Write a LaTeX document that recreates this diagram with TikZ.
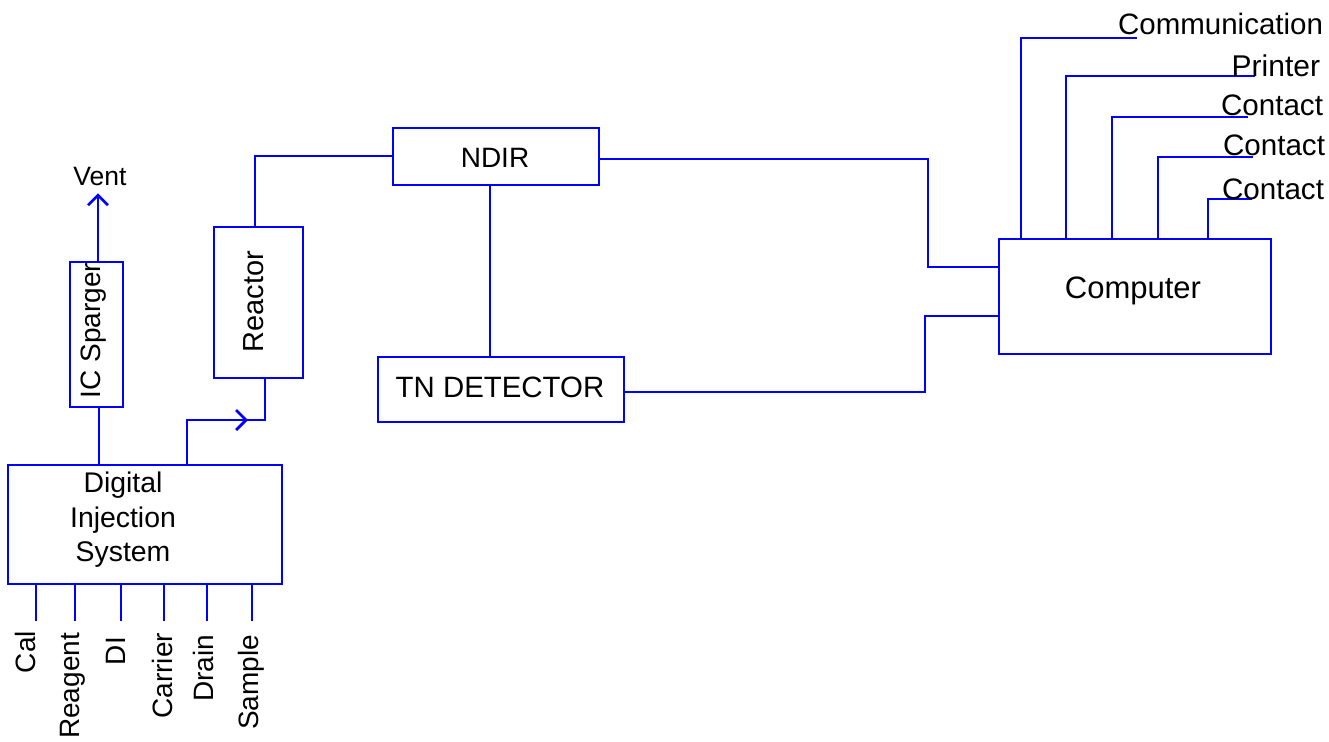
\documentclass[tikz,border=0pt]{standalone}
\usepackage{fontspec}
\setmainfont{Liberation Sans}
\usetikzlibrary{arrows.meta}
\begin{document}
\begin{tikzpicture}[x=1pt,y=-1pt,
  box/.style={draw=blue,line width=2.8pt,inner sep=0pt,outer sep=0pt},
  wire/.style={draw=blue,line width=2.8pt},
  txt/.style={inner sep=0pt,outer sep=0pt,text=black,font=\fontsize{#1}{34.5}\selectfont},
  txt/.default=29,
  tip/.style={-{Straight Barb[length=10pt,width=20pt]}}]
\useasboundingbox (0,0) rectangle (1329,741);
% boxes
\node[box,minimum width=206pt,minimum height=57pt] (ndir) at (496,156.5) {};
\node[txt=28,anchor=base] (ndirt) at (495,167) {NDIR};
\node[box,minimum width=246pt,minimum height=65pt] (tn) at (501,389.5) {};
\node[txt=29.4,anchor=base] (tnt) at (500,397) {TN DETECTOR};
\node[box,minimum width=272pt,minimum height=115pt] (comp) at (1135,296.5) {};
\node[txt=31,anchor=base] (compt) at (1133,298) {Computer};
\node[box,minimum width=89pt,minimum height=151pt] (reac) at (258.5,302.5) {};
\node[txt=29,rotate=90,anchor=base] (react) at (263,301.5) {Reactor};
\node[box,minimum width=53pt,minimum height=145pt] (spar) at (96.5,334.5) {};
\node[txt=28,rotate=90,anchor=base] (spart) at (100,330.5) {IC Sparger};
\node[box,minimum width=274pt,minimum height=119pt] (dis) at (145,524.5) {};
\node[txt=28.4,align=center] (dist) at (123,520) {Digital\\Injection\\System};
\node[txt=26.5,anchor=base] (vent) at (100,185) {Vent};
% connectors
\draw[wire] (ndir.west |- 0,156) -| (255,0 |- reac.north);
\draw[wire] (ndir.east |- 0,159) -| (928,267) -- (comp.west |- 0,267);
\draw[wire] (tn.east |- 0,392) -| (925,316) -- (comp.west |- 0,316);
\draw[wire] (490,0 |- ndir.south) -- (490,0 |- tn.north);
\draw[wire] (265,0 |- reac.south) |- (187,420) -- (187,0 |- dis.north);
\draw[wire,tip] (187,420) -- (248,420);
\draw[wire] (99,0 |- spar.south) -- (99,0 |- dis.north);
\draw[wire,tip,shorten >=8pt] (98,0 |- spar.north) -- (98,0 |- vent.south);
% computer outputs
\coordinate (e1) at (1137,38);
\coordinate (e2) at (1255,76);
\coordinate (e3) at (1248,117);
\coordinate (e4) at (1253,157);
\coordinate (e5) at (1252,199);
\draw[wire] (1021,0 |- comp.north) |- (e1);
\draw[wire] (1066,0 |- comp.north) |- (e2);
\draw[wire] (1112,0 |- comp.north) |- (e3);
\draw[wire] (1158,0 |- comp.north) |- (e4);
\draw[wire] (1208,0 |- comp.north) |- (e5);
\node[txt=29.5,anchor=base east] (l1) at (1323,35) {Communication};
\node[txt=30,anchor=base east] (l2) at (1320,77) {Printer};
\node[txt=29.6,anchor=base east] (l3) at (1323,115) {Contact};
\node[txt=29.6,anchor=base east] (l4) at (1325,155) {Contact};
\node[txt=29.6,anchor=base east] (l5) at (1324,199) {Contact};
% injection inputs
\foreach \x/\n in {36/cal,75/rea,121/di,164/car,207/dra,252/sam}{
  \coordinate (s\n) at (\x,621);
  \draw[wire] (\x,0 |- dis.south) -- (s\n);
}
\node[txt=28,rotate=90,anchor=base east] (tcal) at (35,631) {Cal};
\node[txt=28,rotate=90,anchor=base east] (trea) at (79,633) {Reagent};
\node[txt=28,rotate=90,anchor=base east] (tdi) at (125,637) {DI};
\node[txt=28,rotate=90,anchor=base east] (tcar) at (172,633) {Carrier};
\node[txt=28,rotate=90,anchor=base east] (tdra) at (213,635) {Drain};
\node[txt=28,rotate=90,anchor=base east] (tsam) at (258,635) {Sample};
\end{tikzpicture}
\end{document}
